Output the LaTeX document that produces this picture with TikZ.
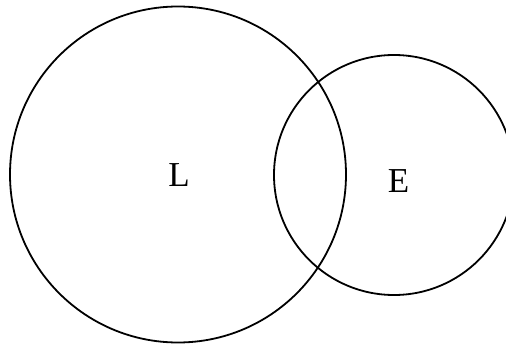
\documentclass[tikz,border=0pt]{standalone}
\usepackage{fontspec}
\setmainfont{Liberation Serif}
\begin{document}
\begin{tikzpicture}[x=1pt,y=-1pt,
  setcircle/.style={draw=black,line width=1.8pt,circle,inner sep=0pt},
  setlabel/.style={font=\fontsize{35}{40}\selectfont,inner sep=0pt,anchor=base}]
\clip (0,0) rectangle (506,345);
\useasboundingbox (0,0) rectangle (506,345);
\node[setcircle,minimum size=336pt] (cl) at (178,174.5) {};
\node[setcircle,minimum size=240pt] (ce) at (394,175) {};
\node[setlabel] (l) at (179,186) {L};
\node[setlabel] (e) at (398.5,192) {E};
\end{tikzpicture}
\end{document}
